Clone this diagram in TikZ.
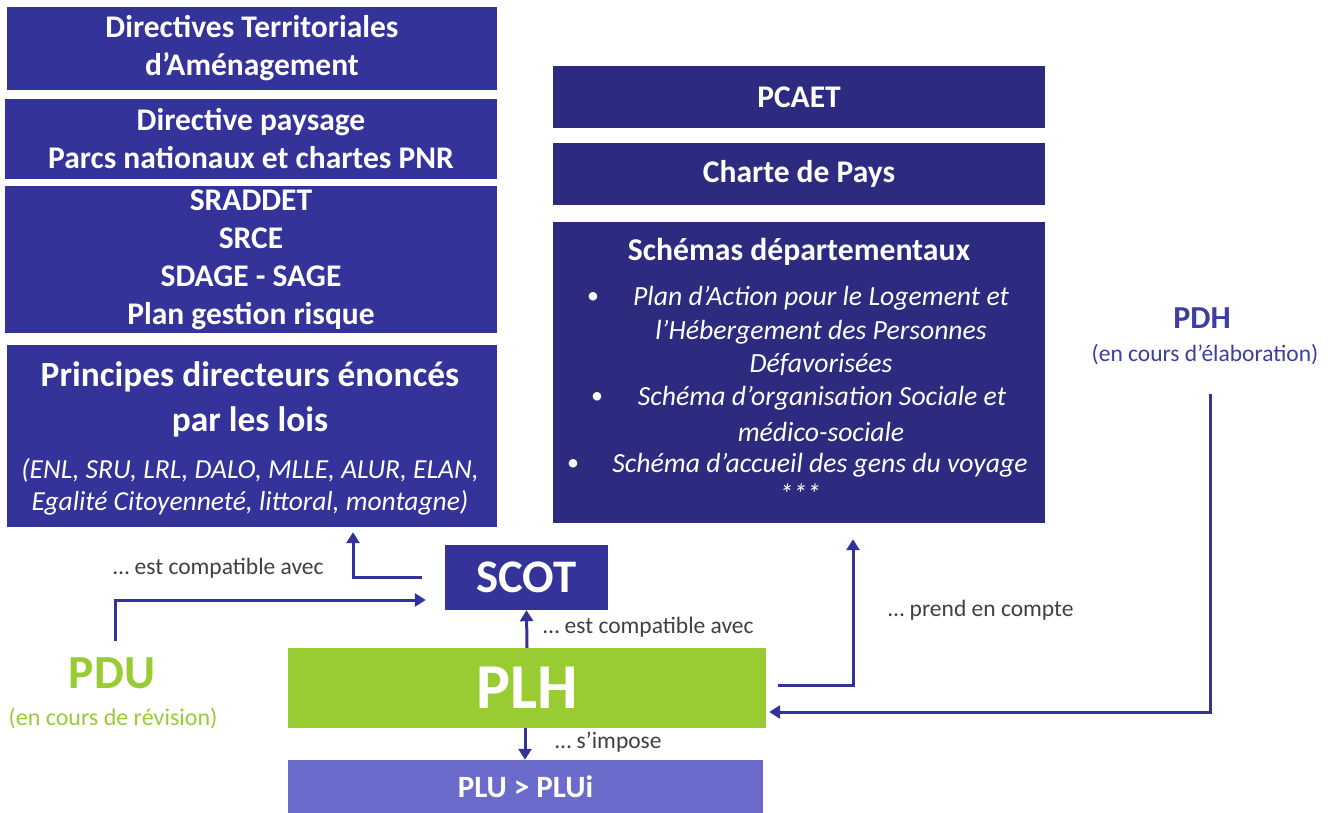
\documentclass[tikz,border=0pt]{standalone}
\usepackage{fontspec}
\setmainfont{Carlito}
\usetikzlibrary{arrows.meta,calc}
\definecolor{navyA}{HTML}{33339A}
\definecolor{navyB}{HTML}{2C2B80}
\definecolor{plhgreen}{HTML}{99CC33}
\definecolor{plublue}{HTML}{6B6BCB}
\definecolor{arrowblue}{HTML}{32329A}
\definecolor{pdhblue}{HTML}{3E3EA0}
\definecolor{labelgray}{HTML}{404040}
\newcommand{\fs}[2]{\fontsize{#1}{#2}\selectfont}
\tikzset{
  lbox/.style={fill=navyA, text=white, align=center, inner sep=0pt, font=\bfseries\fs{31.5}{38}},
  rbox/.style={fill=navyB, text=white, align=center, inner sep=0pt, font=\bfseries\fs{31.5}{38}},
  item/.style={text=white, inner sep=0pt, font=\itshape\fs{27.7}{33}},
  bullet/.style={text=white, inner sep=0pt, font=\fs{24}{28}},
  conn/.style={draw=arrowblue, line width=3pt, -{Triangle[length=11pt,width=13pt]}},
  lbl/.style={text=labelgray, inner sep=0pt, font=\fs{23.5}{27}},
}
\begin{document}
\begin{tikzpicture}[x=1pt,y=-1pt]
\useasboundingbox[fill=white] (0,0) rectangle (1339,813);

% left column of boxes
\node[lbox, minimum width=490, minimum height=83] (dta) at (252,48.5)
  {Directives Territoriales\\d’Aménagement};
\node[lbox, minimum width=492, minimum height=80] (dp) at (251,139)
  {Directive paysage\\Parcs nationaux et chartes PNR};
\node[lbox, minimum width=492, minimum height=147] (sr) at (251,259.5)
  {SRADDET\\SRCE\\SDAGE - SAGE\\Plan gestion risque};
\node[lbox, minimum width=490, minimum height=182] (pdl) at (252,436) {};
\node[text=white, align=center, inner sep=0pt, font=\bfseries\fs{35.4}{45}] (pdlt) at (250,399)
  {Principes directeurs énoncés\\par les lois};
\node[text=white, align=center, inner sep=0pt, font=\itshape\fs{27.5}{32}] (pdls) at (250,487)
  {(ENL, SRU, LRL, DALO, MLLE, ALUR, ELAN,\\Egalité Citoyenneté, littoral, montagne)};

% right column of boxes
\node[rbox, minimum width=492, minimum height=62] (pcaet) at (799,97) {PCAET};
\node[rbox, minimum width=492, minimum height=62] (cdp) at (799,174) {Charte de Pays};
\node[rbox, minimum width=492, minimum height=301] (sd) at (799,372.5) {};
\node[text=white, inner sep=0pt, font=\bfseries\fs{31.7}{36}] (sdt) at (799,252) {Schémas départementaux};
\node[item] (i1a) at (821,298) {Plan d’Action pour le Logement et};
\node[item] (i1b) at (821,332) {l’Hébergement des Personnes};
\node[item] (i1c) at (821,365) {Défavorisées};
\node[item] (i2a) at (822,398) {Schéma d’organisation Sociale et};
\node[item] (i2b) at (821,432) {médico-sociale};
\node[item] (i3a) at (820,465) {Schéma d’accueil des gens du voyage};
\node[item] (i4) at (800,494) {***};
\node[bullet] (b1) at (593,298) {•};
\node[bullet] (b2) at (597,398) {•};
\node[bullet] (b3) at (573,465) {•};

% central chain
\node[fill=navyA, text=white, inner sep=0pt, minimum width=163, minimum height=65,
  font=\bfseries\fs{46.7}{50}] (scot) at (526.5,577.5) {SCOT};
\node[fill=plhgreen, text=white, inner sep=0pt, minimum width=478, minimum height=80,
  font=\bfseries\fs{64}{70}] (plh) at (527,688) {PLH};
\node[fill=plublue, text=white, inner sep=0pt, minimum width=475, minimum height=54,
  font=\bfseries\fs{31}{34}] (plu) at (525.5,787) {PLU > PLUi};

% side plans
\node[text=plhgreen, inner sep=0pt, font=\bfseries\fs{47.5}{50}] (pdu) at (112,673) {PDU};
\node[text=plhgreen, inner sep=0pt, font=\fs{24}{28}] (pdus) at (113,718) {(en cours de révision)};
\node[text=pdhblue, inner sep=0pt, font=\bfseries\fs{32}{36}] (pdh) at (1202,318) {PDH};
\node[text=pdhblue, inner sep=0pt, font=\fs{23.5}{27}] (pdhs) at (1205,355) {(en cours d’élaboration)};
\coordinate (pdustart) at (115,641);
\coordinate (pdhstart) at (1210,394);

% connectors
\draw[conn] ([xshift=-23pt]scot.west) -| ([xshift=101pt,yshift=-5pt]pdl.south);
\draw[conn] (pdustart) |- ([xshift=-19pt,yshift=-22.5pt]scot.west);
\draw[conn] (plh.north) -- (scot.south);
\draw[conn] ([xshift=-2pt]plh.south) -- ([xshift=-0.5pt]plu.north);
\draw[conn] ([xshift=12pt,yshift=3pt]plh.east) -| ([xshift=54pt,yshift=-16pt]sd.south);
\draw[conn] (pdhstart) |- ([xshift=3pt,yshift=-24pt]plh.east);

% connector labels
\node[lbl, anchor=west] (l1) at (113,568) {… est compatible avec};
\node[lbl, anchor=west] (l2) at (543,627) {… est compatible avec};
\node[lbl, anchor=west] (l3) at (555,742) {… s’impose};
\node[lbl, anchor=west] (l4) at (888,610) {… prend en compte};
\end{tikzpicture}
\end{document}
